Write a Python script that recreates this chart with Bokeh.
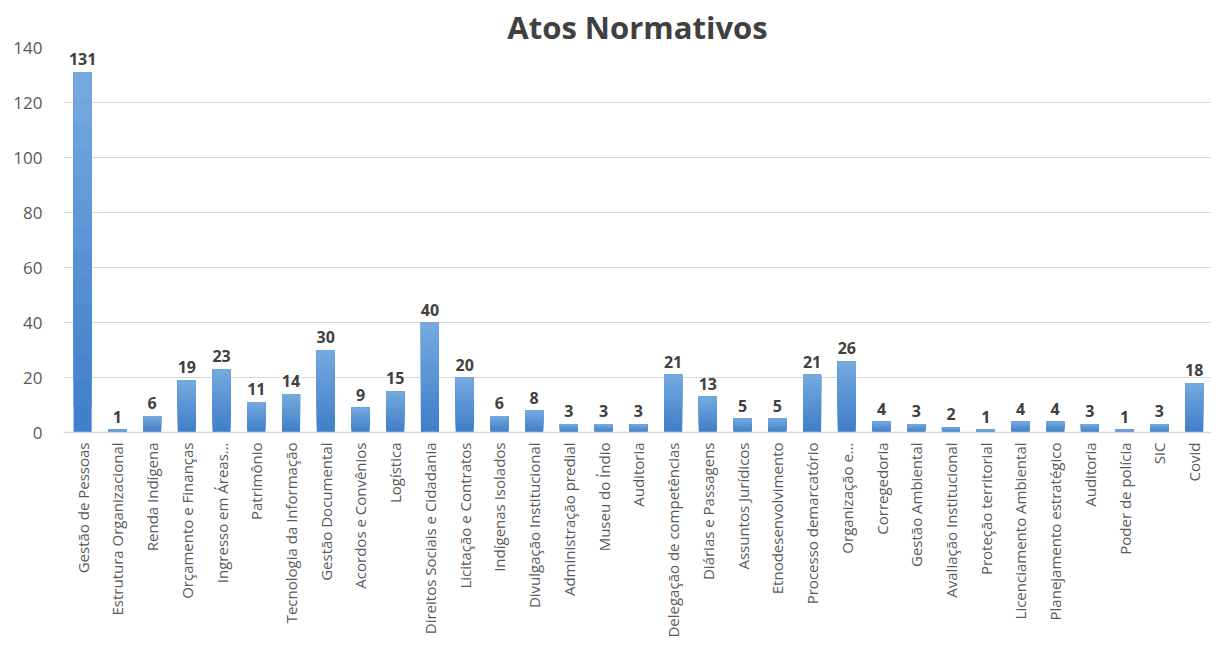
from bokeh.plotting import figure
from bokeh.models import Range1d, FixedTicker, ColumnDataSource, Span
from bokeh.core.properties import value
from bokeh.embed import file_html
from bokeh.resources import INLINE
import math

categories = [
    "Gestão de Pessoas", "Estrutura Organizacional", "Renda Indígena",
    "Orçamento e Finanças", "Ingresso em Áreas…", "Patrimônio",
    "Tecnologia da Informação", "Gestão Documental", "Acordos e Convênios",
    "Logística", "Direitos Sociais e Cidadania", "Licitação e Contratos",
    "Indígenas Isolados", "Divulgação Institucional", "Administração predial",
    "Museu do Índio", "Auditoria", "Delegação de competências",
    "Diárias e Passagens", "Assuntos Jurídicos", "Etnodesenvolvimento",
    "Processo demarcatório", "Organização e…", "Corregedoria",
    "Gestão Ambiental", "Avaliação Institucional", "Proteção territorial",
    "Licenciamento Ambiental", "Planejamento estratégico", "Auditoria",
    "Poder de polícia", "SIC", "Covid",
]
values = [131, 1, 6, 19, 23, 11, 14, 30, 9, 15, 40, 20, 6, 8, 3, 3, 3, 21,
          13, 5, 5, 21, 26, 4, 3, 2, 1, 4, 4, 3, 1, 3, 18]
y_ticks = [0, 20, 40, 60, 80, 100, 120, 140]

FONT = "Open Sans"
dark = (62, 125, 200)
light = (118, 170, 224)
N = 14

W, H = 1211, 641
TOP = 47          # frame top (px)
AXIS_Y = 432      # where value 0 sits (px)
y_max = y_ticks[-1]
px_per_unit = (AXIS_Y - TOP) / y_max
y_min = -(H - AXIS_Y) / px_per_unit   # room below the axis for the hanging labels

xs = list(range(len(categories)))

p = figure(width=W, height=H, output_backend="svg", toolbar_location=None,
           x_range=Range1d(-0.55, len(categories) - 0.5),
           y_range=Range1d(y_min, y_max),
           min_border_left=63, min_border_right=0, min_border_top=TOP,
           min_border_bottom=0)

p.title.text = "Atos Normativos"
p.title.align = "center"
p.title.text_font = FONT
p.title.text_font_size = "31px"
p.title.text_font_style = "bold"
p.title.text_color = "#404040"
p.title.offset = 0
p.title.standoff = 0

p.xgrid.grid_line_color = None
p.ygrid.grid_line_color = "#D9D9D9"
p.ygrid.ticker = FixedTicker(ticks=y_ticks)
p.outline_line_color = None

# category axis line
p.add_layout(Span(location=0, dimension="width", line_color="#D9D9D9", line_width=1.5))

# gradient bars: overlapping slices of each bar, derived from its own value
sx, sb, st, sc = [], [], [], []
for i, v in enumerate(values):
    for k in range(N):
        t = (k + 0.5) / N
        c = tuple(int(round(dark[j] + (light[j] - dark[j]) * t)) for j in range(3))
        sx.append(i)
        sb.append(v * k / N)
        st.append(v)
        sc.append("#%02x%02x%02x" % c)
p.vbar(x=sx, bottom=sb, top=st, width=0.52, fill_color=sc, line_color=None)

src = ColumnDataSource(dict(x=xs, y=values, t=[str(v) for v in values],
                            zero=[0] * len(xs), cat=categories))
p.text(x="x", y="y", text="t", source=src, y_offset=-7, text_align="center",
       text_baseline="bottom", text_font=value(FONT), text_font_size="16px",
       text_font_style="bold", text_color="#404040")

# category labels, rotated, hanging below the axis
p.text(x="x", y="zero", text="cat", source=src, angle=math.pi / 2,
       y_offset=10, text_align="right", text_baseline="middle",
       text_font=value(FONT), text_font_size="15px", text_color="#595959")

p.xaxis.visible = False

p.yaxis.ticker = FixedTicker(ticks=y_ticks)
p.yaxis.major_label_text_font = FONT
p.yaxis.major_label_text_font_size = "17px"
p.yaxis.major_label_text_color = "#595959"
p.yaxis.major_label_standoff = 15
p.yaxis.major_tick_line_color = None
p.yaxis.minor_tick_line_color = None
p.yaxis.axis_line_color = None

open("out.html", "w").write(file_html(p, INLINE))
